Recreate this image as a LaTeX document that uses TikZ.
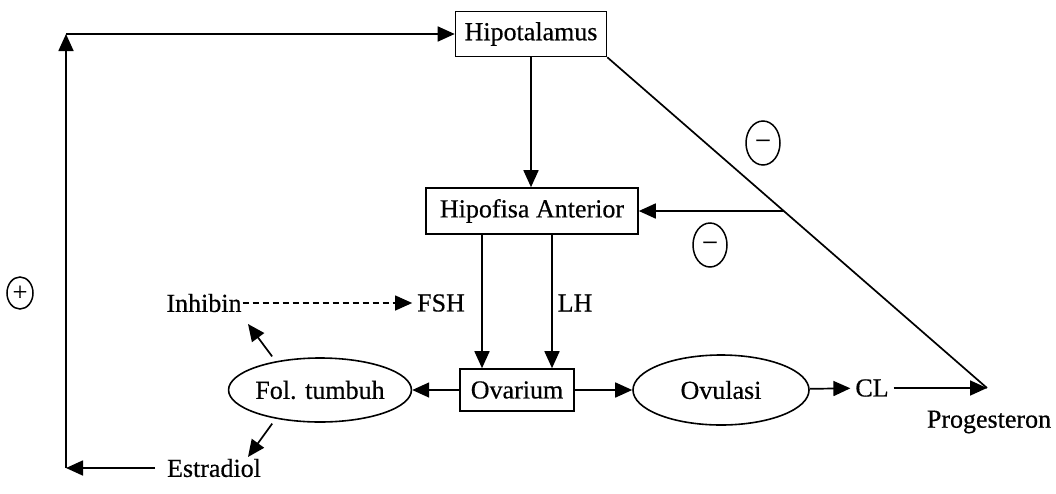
\documentclass[tikz,border=0pt]{standalone}
\usepackage{fontspec}
\setmainfont{Liberation Serif}
\newfontfamily\scanfont{Liberation Serif}[FakeBold=0.5]
\usetikzlibrary{shapes.geometric,arrows.meta,positioning,calc}

\tikzset{
  box/.style={draw, line width=1.6pt, inner sep=0pt, font=\scanfont\fontsize{26}{30}\selectfont},
  oval/.style={draw, ellipse, line width=1.6pt, inner sep=0pt, font=\scanfont\fontsize{26}{30}\selectfont},
  txt/.style={inner sep=0pt, outer sep=5pt, font=\scanfont\fontsize{26}{30}\selectfont},
  sign/.style={draw, ellipse, line width=1.5pt, minimum width=34pt, minimum height=44pt, inner sep=0pt, font=\scanfont\fontsize{26}{30}\selectfont},
  arr/.style={line width=1.7pt, -{Triangle[length=17pt,width=15pt]}},
}

\begin{document}
\begin{tikzpicture}[x=1pt, y=-1pt]
  \useasboundingbox (0,0) rectangle (1056,493);
  % Boxes and ovals
  \node[box, minimum width=151pt, minimum height=45pt] (hipo) at (531,34) {Hipotalamus};
  \node[box, minimum width=212pt, minimum height=46pt] (anterior) at (532,211) {Hipofisa Anterior};
  \node[box, minimum width=114pt, minimum height=42pt] (ovarium) at (517,390) {Ovarium};
  \node[oval, minimum width=170pt, minimum height=64pt] (fol) at (320,390) {Fol. tumbuh};
  \node[oval, minimum width=176pt, minimum height=70pt] (ovulasi) at (721,390) {Ovulasi};
  % Hormone labels
  \node[txt] (cl) at (872,388) {CL};
  \node[txt] (progesteron) at (989,422) {Progesteron};
  \node[txt, outer sep=1pt] (inhibin) at (204,303) {Inhibin};
  \node[txt] (fsh) at (441,303) {FSH};
  \node[txt] (lh) at (575,303) {LH};
  \node[txt, outer sep=12pt] (estradiol) at (214,468) {Estradiol};
  % Feedback signs
  \node[sign, minimum width=26pt, minimum height=32pt] (plus) at (20,293) {+};
  \node[sign] (minus1) at (763,143) {\textendash};
  \node[sign] (minus2) at (710,245) {\textendash};
  % Free ends
  \coordinate (topleft) at (66,34);
  \coordinate (botleft) at (66,468);
  \coordinate (clend) at (987,388);
  \coordinate (inhtip) at (248,324);
  \coordinate (esttip) at (248,457);
  \path (hipo.south east) -- (clend) coordinate[pos=0.465] (junction);
  % Estradiol loop
  \draw[arr] (estradiol) -- (botleft);
  \draw[arr] (botleft) -- (topleft);
  \draw[arr] (topleft) -- (hipo.west);
  % Main axis
  \draw[arr] (hipo.south) -- (hipo.south |- anterior.north);
  \draw[arr] ([xshift=-35pt]ovarium.north |- anterior.south) -- ([xshift=-35pt]ovarium.north);
  \draw[arr] ([xshift=35pt]ovarium.north |- anterior.south) -- ([xshift=35pt]ovarium.north);
  \draw[arr] (ovarium) -- (fol);
  \draw[arr] (ovarium) -- (ovulasi);
  \draw[arr] (ovulasi) -- (cl);
  \draw[arr] (cl) -- (clend);
  % Progesteron feedback
  \draw[line width=1.7pt] (hipo.south east) -- (clend);
  \draw[arr] (junction) -- (anterior.east);
  % Follicle products
  \draw[arr, line width=1.2pt, dash pattern=on 6pt off 4pt] (inhibin) -- (fsh);
  \draw[arr, shorten <=6pt] (fol.147) -- (inhtip);
  \draw[arr, shorten <=6pt] (fol.213) -- (esttip);
\end{tikzpicture}
\end{document}
